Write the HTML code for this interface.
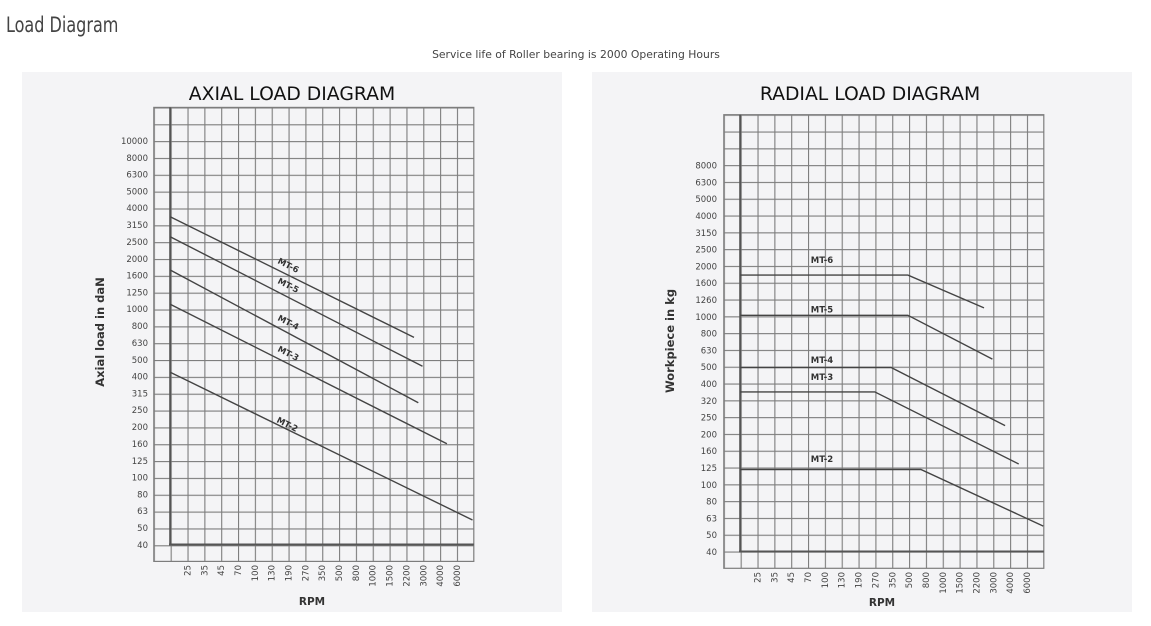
<!DOCTYPE html>
<html><head><meta charset="utf-8"><style>
html,body{margin:0;padding:0;background:#fff;width:1151px;height:626px;overflow:hidden}
</style></head><body>
<svg width="1151" height="626" viewBox="0 0 1151 626" xmlns="http://www.w3.org/2000/svg" font-family="'DejaVu Sans', sans-serif">
<defs>
<pattern id="gl" patternUnits="userSpaceOnUse" x="153.8" y="107.4" width="16.84" height="16.84">
<path d="M0 0.5H16.84M0.5 0V16.84" stroke="#7d7d7d" stroke-width="1.2" fill="none"/></pattern>
<pattern id="gr" patternUnits="userSpaceOnUse" x="723.8" y="114.7" width="16.84" height="16.8">
<path d="M0 0.5H16.84M0.5 0V16.8" stroke="#7d7d7d" stroke-width="1.2" fill="none"/></pattern>
</defs>
<text x="6" y="32" font-family="'Liberation Sans Narrow','DejaVu Sans Condensed',sans-serif" font-size="21" fill="#444" transform="translate(6 0) scale(0.85 1) translate(-6 0)">Load Diagram</text>
<text x="576" y="58" font-size="10.8" fill="#444" text-anchor="middle">Service life of Roller bearing is 2000 Operating Hours</text>

<!-- LEFT -->
<rect x="22" y="72" width="540" height="540" fill="#f4f4f6"/>
<text x="292" y="100" font-size="18.8" fill="#111" text-anchor="middle">AXIAL LOAD DIAGRAM</text>
<rect x="153.8" y="107.4" width="320" height="454" fill="url(#gl)" stroke="#7d7d7d" stroke-width="1.2"/>
<line x1="170.2" y1="107.4" x2="170.2" y2="545" stroke="#555" stroke-width="2"/>
<line x1="169" y1="544.5" x2="473.8" y2="544.5" stroke="#555" stroke-width="2"/>
<g fill="none" stroke="#444" stroke-width="1.4">
<line x1="170.2" y1="216.8" x2="414" y2="337.4"/>
<line x1="170.2" y1="236.7" x2="422.5" y2="366.3"/>
<line x1="170.2" y1="270" x2="418.3" y2="402.7"/>
<line x1="170.2" y1="304.2" x2="446.9" y2="443.8"/>
<line x1="170.2" y1="372.2" x2="472.5" y2="520"/>
</g>
<g font-size="8.5" font-weight="bold" fill="#333" text-anchor="middle">
<text transform="translate(287 268) rotate(27)">MT-6</text>
<text transform="translate(287 288) rotate(27)">MT-5</text>
<text transform="translate(287 325) rotate(27)">MT-4</text>
<text transform="translate(287 356) rotate(27)">MT-3</text>
<text transform="translate(286 427) rotate(27)">MT-2</text>
</g>
<g font-size="8.5" fill="#444" text-anchor="end">
<text x="148" y="548">40</text><text x="148" y="531">50</text><text x="148" y="514">63</text><text x="148" y="497.5">80</text><text x="148" y="480.5">100</text><text x="148" y="464">125</text><text x="148" y="447">160</text><text x="148" y="430">200</text><text x="148" y="413">250</text><text x="148" y="396.5">315</text><text x="148" y="379.5">400</text><text x="148" y="363">500</text><text x="148" y="346">630</text><text x="148" y="329">800</text><text x="148" y="312">1000</text><text x="148" y="295.5">1250</text><text x="148" y="278.5">1600</text><text x="148" y="262">2000</text><text x="148" y="245">2500</text><text x="148" y="228">3150</text><text x="148" y="211">4000</text><text x="148" y="194.5">5000</text><text x="148" y="177.5">6300</text><text x="148" y="161">8000</text><text x="148" y="144">10000</text>
</g>
<g font-size="8.5" fill="#444" text-anchor="end">
<text transform="translate(190.5 565) rotate(-90)">25</text><text transform="translate(207.4 565) rotate(-90)">35</text><text transform="translate(224.2 565) rotate(-90)">45</text><text transform="translate(241 565) rotate(-90)">70</text><text transform="translate(257.9 565) rotate(-90)">100</text><text transform="translate(274.7 565) rotate(-90)">130</text><text transform="translate(291.5 565) rotate(-90)">190</text><text transform="translate(308.4 565) rotate(-90)">270</text><text transform="translate(325.2 565) rotate(-90)">350</text><text transform="translate(342.1 565) rotate(-90)">500</text><text transform="translate(358.9 565) rotate(-90)">800</text><text transform="translate(375.7 565) rotate(-90)">1000</text><text transform="translate(392.6 565) rotate(-90)">1500</text><text transform="translate(409.4 565) rotate(-90)">2200</text><text transform="translate(426.3 565) rotate(-90)">3000</text><text transform="translate(443.1 565) rotate(-90)">4000</text><text transform="translate(459.9 565) rotate(-90)">6000</text>
</g>
<text x="312" y="605" font-size="10.5" font-weight="bold" fill="#333" text-anchor="middle">RPM</text>
<text transform="translate(104 332) rotate(-90)" font-size="11.5" font-weight="bold" fill="#333" text-anchor="middle">Axial load in daN</text>

<!-- RIGHT -->
<rect x="592" y="72" width="540" height="540" fill="#f4f4f6"/>
<text x="870" y="100" font-size="18.8" fill="#111" text-anchor="middle">RADIAL LOAD DIAGRAM</text>
<rect x="723.8" y="114.7" width="320" height="453.6" fill="url(#gr)" stroke="#7d7d7d" stroke-width="1.2"/>
<line x1="740.2" y1="114.7" x2="740.2" y2="552" stroke="#555" stroke-width="2"/>
<line x1="739" y1="551.5" x2="1043.8" y2="551.5" stroke="#555" stroke-width="2"/>
<g fill="none" stroke="#444" stroke-width="1.4">
<polyline points="740.2,275.1 907.9,275.1 984,307.9"/>
<polyline points="740.2,315.3 907.9,315.3 992.4,359.1"/>
<polyline points="740.2,367.5 891.1,367.5 1005.1,425.6"/>
<polyline points="740.2,391.9 874.8,391.9 1018.7,464"/>
<polyline points="740.2,469.5 920.9,469.5 1043.3,526.1"/>
</g>
<g font-size="8.5" font-weight="bold" fill="#333" text-anchor="middle">
<text x="822" y="263">MT-6</text>
<text x="822" y="312.5">MT-5</text>
<text x="822" y="363">MT-4</text>
<text x="822" y="380">MT-3</text>
<text x="822" y="462">MT-2</text>
</g>
<g font-size="8.5" fill="#444" text-anchor="end">
<text x="717" y="555">40</text><text x="717" y="538">50</text><text x="717" y="521.5">63</text><text x="717" y="504.5">80</text><text x="717" y="488">100</text><text x="717" y="471">125</text><text x="717" y="454">160</text><text x="717" y="437.5">200</text><text x="717" y="420.5">250</text><text x="717" y="404">320</text><text x="717" y="387">400</text><text x="717" y="370">500</text><text x="717" y="353.5">630</text><text x="717" y="336.5">800</text><text x="717" y="320">1000</text><text x="717" y="303">1260</text><text x="717" y="286">1600</text><text x="717" y="269.5">2000</text><text x="717" y="252.5">2500</text><text x="717" y="236">3150</text><text x="717" y="219">4000</text><text x="717" y="202">5000</text><text x="717" y="185.5">6300</text><text x="717" y="168.5">8000</text>
</g>
<g font-size="8.5" fill="#444" text-anchor="end">
<text transform="translate(760.5 572) rotate(-90)">25</text><text transform="translate(777.4 572) rotate(-90)">35</text><text transform="translate(794.2 572) rotate(-90)">45</text><text transform="translate(811.1 572) rotate(-90)">70</text><text transform="translate(827.9 572) rotate(-90)">100</text><text transform="translate(844.7 572) rotate(-90)">130</text><text transform="translate(861.6 572) rotate(-90)">190</text><text transform="translate(878.4 572) rotate(-90)">270</text><text transform="translate(895.3 572) rotate(-90)">350</text><text transform="translate(912.1 572) rotate(-90)">500</text><text transform="translate(928.9 572) rotate(-90)">800</text><text transform="translate(945.8 572) rotate(-90)">1000</text><text transform="translate(962.6 572) rotate(-90)">1500</text><text transform="translate(979.5 572) rotate(-90)">2200</text><text transform="translate(996.3 572) rotate(-90)">3000</text><text transform="translate(1013.1 572) rotate(-90)">4000</text><text transform="translate(1030 572) rotate(-90)">6000</text>
</g>
<text x="882" y="606" font-size="10.5" font-weight="bold" fill="#333" text-anchor="middle">RPM</text>
<text transform="translate(674 341) rotate(-90)" font-size="11.5" font-weight="bold" fill="#333" text-anchor="middle">Workpiece in kg</text>
</svg>
</body></html>
